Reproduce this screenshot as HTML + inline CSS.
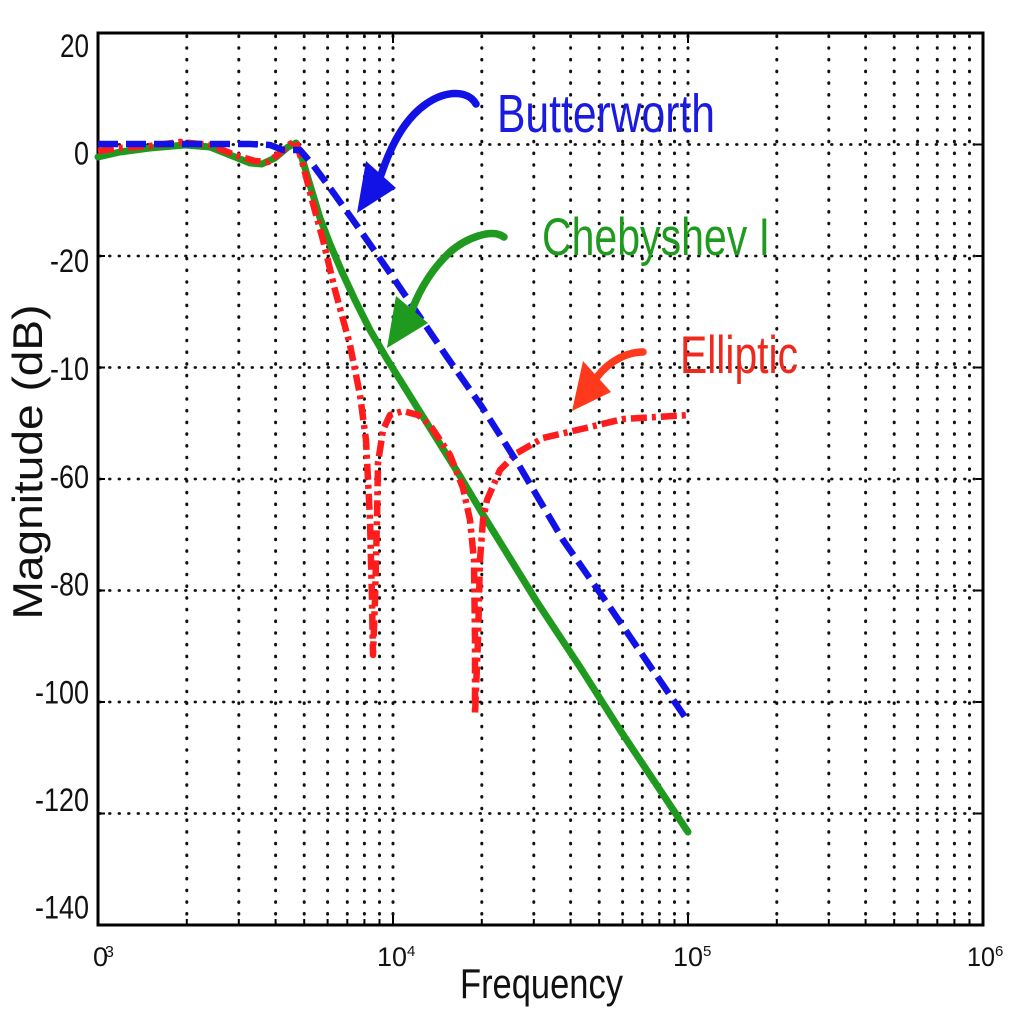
<!DOCTYPE html>
<html>
<head>
<meta charset="utf-8">
<style>
html,body{margin:0;padding:0;background:#fff;}
svg{display:block;}
text{font-family:"Liberation Sans","DejaVu Sans",sans-serif;}
</style>
</head>
<body>
<svg width="1024" height="1024" viewBox="0 0 1024 1024" xmlns="http://www.w3.org/2000/svg">
<rect width="1024" height="1024" fill="#fff"/>

<!-- vertical grid -->
<g stroke="#111" stroke-width="3" stroke-dasharray="0.6 11.1" stroke-linecap="round" fill="none">
<path d="M186.8 36V924M238.8 36V924M275.6 36V924M304.2 36V924M327.6 36V924M347.3 36V924M364.4 36V924M379.5 36V924M393 36V924
M481.8 36V924M533.8 36V924M570.6 36V924M599.2 36V924M622.6 36V924M642.3 36V924M659.4 36V924M674.5 36V924M688 36V924
M776.8 36V924M828.8 36V924M865.6 36V924M894.2 36V924M917.6 36V924M937.3 36V924M954.4 36V924M969.5 36V924"/>
</g>
<!-- horizontal grid -->
<g stroke="#111" stroke-width="2.8" stroke-dasharray="0.6 8.9" stroke-linecap="round" fill="none">
<path d="M100 144.5H983M100 256H983M100 367.5H983M100 479H983M100 590.5H983M100 702H983M100 813.5H983"/>
</g>

<!-- ticks -->
<g stroke="#000" stroke-width="2" fill="none">
<path d="M98 144.5h7M98 256h7M98 367.5h7M98 479h7M98 590.5h7M98 702h7M98 813.5h7
M983 144.5h-7M983 256h-7M983 367.5h-7M983 479h-7M983 590.5h-7M983 702h-7M983 813.5h-7
M393 925v-10M688 925v-10M393 33v10M688 33v10
M186.8 925v-6M238.8 925v-6M275.6 925v-6M304.2 925v-6M327.6 925v-6M347.3 925v-6M364.4 925v-6M379.5 925v-6
M481.8 925v-6M533.8 925v-6M570.6 925v-6M599.2 925v-6M622.6 925v-6M642.3 925v-6M659.4 925v-6M674.5 925v-6
M776.8 925v-6M828.8 925v-6M865.6 925v-6M894.2 925v-6M917.6 925v-6M937.3 925v-6M954.4 925v-6M969.5 925v-6"/>
</g>

<!-- axes box -->
<rect x="98" y="33" width="885" height="892" fill="none" stroke="#000" stroke-width="3"/>

<!-- Green Chebyshev -->
<polyline fill="none" stroke="#1f9a1f" stroke-width="7" stroke-linejoin="round" stroke-linecap="round"
points="98,157 120,152 150,148 185,145 210,147 230,155 250,163 262,164 275,158 288,147 296,143 302,158 310,185 320,218 330,244 342,272 355,300 370,330 387,359 420,412 460,476 482,513 537,602 580,667 620,730 688,832"/>

<!-- Red Elliptic -->
<polyline fill="none" stroke="#ff1c1c" stroke-width="6.5" stroke-dasharray="16 5 4 5" stroke-linejoin="round"
points="98,151 120,148 150,146 180,142 210,145 235,155 255,161 268,162 280,153 290,144 296,141 303,165 312,200 323,240 335,290 350,345 360,395 366,440 370,520 372,600 373,655 375,600 377,520 378,463 383,430 390,415 403,411 418,415 430,425 450,455 463,488 470,520 474,560 475,640 475,715 478,640 480,560 483,520 487,500 500,470 517,453 543,438 590,427 623,419 690,415"/>

<!-- Blue Butterworth -->
<polyline fill="none" stroke="#1212e6" stroke-width="6.5" stroke-dasharray="20 8" stroke-linejoin="round"
points="98,144 150,144 200,144 250,144 270,145 283,150 300,150 313,165 330,188 360,230 390,273 447,357 482,407 517,462 563,540 607,603 650,666 685,717"/>

<!-- Arrows -->
<path d="M476,104 C468,90 446,90 426,104 C406,118 392,142 381,175" fill="none" stroke="#1212e6" stroke-width="7.5" stroke-linecap="round"/>
<polygon points="366,161 396,188 357,213" fill="#1212e6"/>

<path d="M504,237 C492,228 466,238 450,252 C435,266 421,286 412,310" fill="none" stroke="#1f9a1f" stroke-width="7.5" stroke-linecap="round"/>
<polygon points="396,296 428,323 387,348" fill="#1f9a1f"/>

<path d="M643,352 C628,352 610,360 597,377" fill="none" stroke="#ff3a1c" stroke-width="7.5" stroke-linecap="round"/>
<polygon points="583,361 611,392 572,411" fill="#ff3a1c"/>

<!-- Annotation labels -->
<text x="497" y="132" font-size="54" fill="#1a1ae0" textLength="218" lengthAdjust="spacingAndGlyphs">Butterworth</text>
<text x="542" y="255" font-size="53" fill="#1f9a1f" textLength="228" lengthAdjust="spacingAndGlyphs">Chebyshev I</text>
<text x="680" y="373" font-size="53" fill="#ee2a1e" textLength="118" lengthAdjust="spacingAndGlyphs">Elliptic</text>

<!-- Y tick labels -->
<g font-size="32" fill="#111">
<text x="60" y="57" textLength="29" lengthAdjust="spacingAndGlyphs">20</text>
<text x="74" y="164.5" textLength="15" lengthAdjust="spacingAndGlyphs">0</text>
<text x="50" y="272" textLength="39" lengthAdjust="spacingAndGlyphs">-20</text>
<text x="50" y="380" textLength="39" lengthAdjust="spacingAndGlyphs">-10</text>
<text x="50" y="488" textLength="39" lengthAdjust="spacingAndGlyphs">-60</text>
<text x="50" y="595.5" textLength="39" lengthAdjust="spacingAndGlyphs">-80</text>
<text x="35" y="703.5" textLength="54" lengthAdjust="spacingAndGlyphs">-100</text>
<text x="35" y="811" textLength="54" lengthAdjust="spacingAndGlyphs">-120</text>
<text x="35" y="918.5" textLength="54" lengthAdjust="spacingAndGlyphs">-140</text>
</g>

<!-- X tick labels -->
<g fill="#111">
<text x="93" y="966" font-size="27">0</text>
<text x="105" y="957" font-size="16">3</text>
<text x="377" y="966" font-size="27" textLength="30" lengthAdjust="spacingAndGlyphs">10</text>
<text x="407" y="956" font-size="15">4</text>
<text x="673" y="966" font-size="27" textLength="30" lengthAdjust="spacingAndGlyphs">10</text>
<text x="703" y="956" font-size="15">5</text>
<text x="967" y="966" font-size="27" textLength="28" lengthAdjust="spacingAndGlyphs">10</text>
<text x="995" y="956" font-size="15">6</text>
</g>

<!-- Axis titles -->
<text x="460" y="998" font-size="42" fill="#111" textLength="163" lengthAdjust="spacingAndGlyphs">Frequency</text>
<text transform="translate(42,462) rotate(-90)" x="-157.5" y="0" font-size="42" fill="#111" textLength="315" lengthAdjust="spacingAndGlyphs">Magnitude (dB)</text>
</svg>
</body>
</html>
